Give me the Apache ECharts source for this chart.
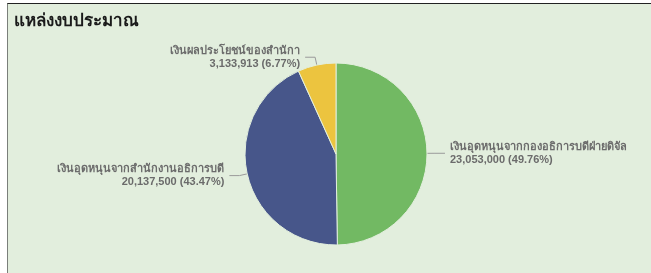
<!DOCTYPE html>
<html>

<head>
    <meta charset="utf-8">
    <script src="https://cdn.jsdelivr.net/npm/echarts@6/dist/echarts.min.js"></script>
    <style>
        body { margin: 0; background: #fff; }
        #frame {
            position: absolute; left: 7px; top: 3px; width: 644px; height: 270px;
            background: #e2eedd; border-left: 1px solid #7a7f7a; border-top: 1px solid #222;
        }
        #main { position: absolute; left: -8px; top: -4px; width: 651px; height: 273px; }
    </style>
</head>

<body>
    <div id="frame"><div id="main"></div></div>
    <script type="text/javascript">
        var names = ['เงินอุดหนุนจากกองอธิการบดีฝ่ายดิจัล', 'เงินอุดหนุนจากสำนักงานอธิการบดี', 'เงินผลประโยชน์ของสำนักา'];
        var values = [23053000, 20137500, 3133913];
        var colors = ['#72b963', '#47568a', '#ecc43f'];

        var myChart = echarts.init(document.getElementById('main'));

        function fmt(n) {
            return n.toString().replace(/\B(?=(\d{3})+(?!\d))/g, ',');
        }

        var option = {
            backgroundColor: 'transparent',
            title: {
                text: 'แหล่งงบประมาณ',
                left: 9, top: 8,
                textStyle: { fontSize: 17, fontWeight: 'bold', color: '#1a1a1a' }
            },
            series: [{
                type: 'pie',
                center: [336, 154],
                radius: 91,
                startAngle: 90,
                clockwise: true,
                data: names.map(function (n, i) {
                    return { name: n, value: values[i], itemStyle: { color: colors[i] } };
                }),
                itemStyle: { borderColor: '#e2eedd', borderWidth: 1 },
                label: {
                    color: '#6b6b6b',
                    fontSize: 11,
                    fontWeight: 'bold',
                    lineHeight: 13,
                    formatter: function (p) {
                        return p.name + '\n' + fmt(p.value) + ' (' + p.percent.toFixed(2) + '%)';
                    }
                },
                labelLine: {
                    length: 8,
                    length2: 10,
                    lineStyle: { color: '#9a9a9a', width: 1 }
                }
            }]
        };

        myChart.setOption(option);
    </script>
</body>

</html>
